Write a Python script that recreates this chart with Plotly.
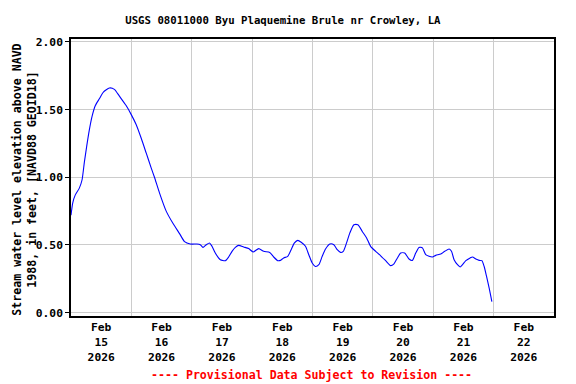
import plotly.graph_objects as go
from datetime import datetime, timedelta

# Hours after 2026-02-15 00:00 and stage (ft)
hours = [0, 0.68, 1.71, 3.31, 4.38, 5.30, 6.25, 7.29, 8.37, 9.68, 11.27, 12.87, 15.26, 17.25,
         19.24, 21.91, 23.90, 25.89, 27.88, 29.88, 31.87, 33.18, 35.17, 37.84, 40.51, 43.14,
         45.13, 47.40, 50.07, 51.39, 52.46, 53.79, 55.09, 56.05, 57.36, 59.36, 61.35, 62.66,
         64.01, 65.33, 66.64, 68.63, 70.63, 72.38, 74.61, 76.60, 78.99, 80.58, 82.18, 83.25,
         84.56, 86.16, 87.51, 88.83, 90.14, 91.50, 93.21, 94.53, 95.88, 97.19, 98.51, 99.86,
         101.18, 102.89, 104.48, 105.84, 107.15, 108.23, 109.54, 110.86, 112.45, 114.04,
         115.80, 117.51, 119.10, 121.09, 123.09, 125.08, 127.07, 128.39, 129.74, 131.05,
         132.65, 134.36, 135.71, 137.03, 138.34, 139.70, 141.01, 142.33, 143.68, 145.00,
         146.99, 148.58, 150.30, 151.25, 152.29, 153.64, 154.68, 155.63, 156.95, 158.66,
         159.62, 160.93, 162.25, 163.32, 164.24, 165.19, 166.23, 167.30]
stage = [0.72, 0.81, 0.87, 0.92, 0.98, 1.11, 1.23, 1.35, 1.45, 1.53, 1.58, 1.63, 1.66, 1.65,
         1.60, 1.53, 1.465, 1.39, 1.29, 1.18, 1.07, 1.00, 0.885, 0.75, 0.66, 0.584,
         0.525, 0.507, 0.507, 0.502, 0.482, 0.502, 0.515, 0.49, 0.44, 0.391, 0.384, 0.411,
         0.453, 0.482, 0.497, 0.485, 0.473, 0.448, 0.473, 0.453, 0.445, 0.411, 0.384, 0.386,
         0.404, 0.416, 0.465, 0.515, 0.534, 0.52, 0.49, 0.428, 0.367, 0.341, 0.354, 0.416,
         0.47, 0.507, 0.502, 0.465, 0.445, 0.453, 0.515, 0.589, 0.65, 0.65,
         0.60, 0.552, 0.49, 0.453, 0.42, 0.384, 0.347, 0.361, 0.404, 0.44,
         0.44, 0.396, 0.386, 0.44, 0.482, 0.478, 0.428, 0.416, 0.411, 0.423,
         0.433, 0.453, 0.47, 0.453, 0.391, 0.354, 0.337, 0.354, 0.384, 0.404,
         0.411, 0.396, 0.386, 0.384, 0.341, 0.267, 0.181, 0.082]

day_labels = ["Feb<br>15<br>2026", "Feb<br>16<br>2026", "Feb<br>17<br>2026", "Feb<br>18<br>2026",
              "Feb<br>19<br>2026", "Feb<br>20<br>2026", "Feb<br>21<br>2026", "Feb<br>22<br>2026"]
y_ticks = [0.0, 0.5, 1.0, 1.5, 2.0]
y_labels = ["0.00", "0.50", "1.00", "1.50", "2.00"]

base = datetime(2026, 2, 15)
times = [base + timedelta(hours=h) for h in hours]
noons = [base + timedelta(days=i, hours=12) for i in range(len(day_labels))]

FONT = "DejaVu Sans Mono"

fig = go.Figure()
fig.add_trace(go.Scatter(x=times, y=stage, mode="lines",
                         line=dict(color="#0000ff", width=1.1, shape="spline", smoothing=0.6),
                         showlegend=False, hoverinfo="skip"))

fig.update_layout(
    width=568, height=376,
    margin=dict(l=63, r=22, t=31, b=68, autoexpand=False),
    paper_bgcolor="white", plot_bgcolor="white",
    font=dict(family=FONT, size=11, color="black", weight="bold"),
    title=dict(text="USGS 08011000 Byu Plaquemine Brule nr Crowley, LA",
               x=0.484, xref="container", xanchor="center",
               y=0.968, yref="container", yanchor="middle",
               font=dict(family=FONT, size=10.7, color="black", weight="bold")),
    xaxis=dict(
        range=[base, base + timedelta(days=8)],
        tickvals=noons, ticktext=day_labels, ticks="", showgrid=False,
        tickfont=dict(family=FONT, size=11.3, weight="bold"),
        showline=True, linecolor="black", linewidth=1.5, mirror=True,
        minor=dict(tick0=base, dtick=86400000, showgrid=True, gridcolor="#cccccc",
                   gridwidth=1, ticks=""),
        zeroline=False, automargin=False,
    ),
    yaxis=dict(
        range=[-0.025, 2.022],
        tickvals=y_ticks, ticktext=y_labels,
        ticks="outside", ticklen=4, tickcolor="black",
        showgrid=True, gridcolor="#cccccc", gridwidth=1,
        showline=True, linecolor="black", linewidth=1.5, mirror=True,
        zeroline=False, automargin=False,
        tickfont=dict(family=FONT, size=11.3, weight="bold"),
    ),
)

# Y-axis title (two centred lines, rotated)
fig.add_annotation(text="Stream water level elevation above NAVD<br>1988, in feet, [NAVD88 GEOID18]",
                   xref="paper", yref="paper", x=-0.096, y=0.491,
                   xanchor="center", yanchor="middle", textangle=-90, showarrow=False,
                   font=dict(family=FONT, size=11.6, color="black", weight="bold"))

fig.add_annotation(text="---- Provisional Data Subject to Revision ----",
                   xref="paper", yref="paper", x=0.497, y=-0.213, yanchor="middle",
                   showarrow=False,
                   font=dict(family=FONT, size=11.6, color="#ff0000", weight="bold"))

fig.write_html("out.html")
